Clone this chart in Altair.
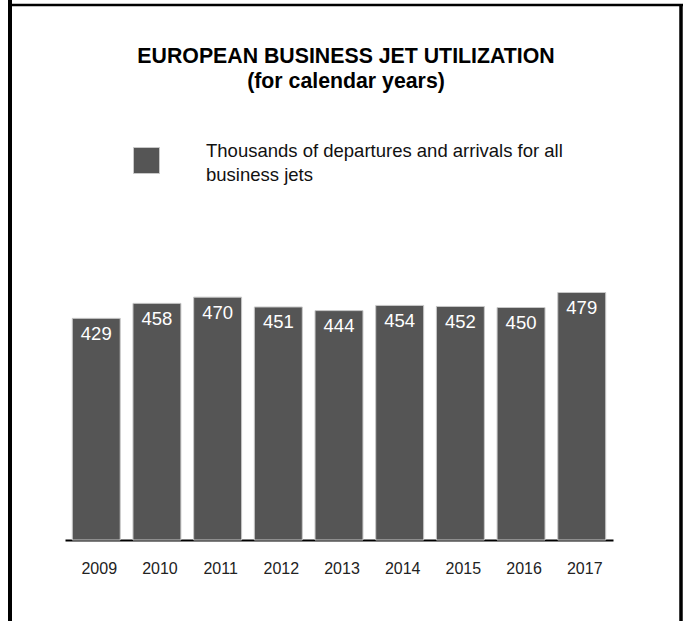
import altair as alt
import pandas as pd

years = ["2009", "2010", "2011", "2012", "2013", "2014", "2015", "2016", "2017"]
values = [429, 458, 470, 451, 444, 454, 452, 450, 479]
series_name = "Thousands of departures and arrivals for all business jets"
legend_lines = ["Thousands of departures and arrivals for all", "business jets"]
title_lines = ["EUROPEAN BUSINESS JET UTILIZATION", "(for calendar years)"]

df = pd.DataFrame({"year": years, "value": values, "series": [series_name] * len(years)})

FONT = "Liberation Sans"
BAR = "#555555"

label_expr = "[" + ", ".join("'" + s + "'" for s in legend_lines) + "]"

x_enc = alt.X(
    "year:N",
    sort=years,
    title=None,
    scale=alt.Scale(paddingInner=0.21, paddingOuter=0.12),
    axis=alt.Axis(
        labelAngle=0,
        labelFontSize=16,
        labelColor="#222222",
        labelPadding=20,
        labelOffset=3,
        ticks=False,
        domainColor="#000000",
        domainWidth=2.2,
        grid=False,
    ),
)
y_enc = alt.Y("value:Q", scale=alt.Scale(domain=[0, 600], nice=False, zero=True), axis=None)

bars = alt.Chart(df).mark_bar(stroke="#c8c8c8", strokeWidth=1).encode(
    x=x_enc,
    y=y_enc,
    color=alt.Color(
        "series:N",
        scale=alt.Scale(domain=[series_name], range=[BAR]),
        legend=alt.Legend(
            title=None,
            orient="none",
            legendX=68,
            legendY=-83,
            symbolType="square",
            symbolSize=676,
            symbolStrokeColor="#c8c8c8",
            symbolStrokeWidth=1,
            symbolOpacity=1,
            labelFontSize=18.5,
            labelColor="#111111",
            labelLimit=600,
            labelOffset=46,
            labelBaseline="bottom",
            labelExpr=label_expr,
            padding=0,
        ),
    ),
)

labels = alt.Chart(df).mark_text(
    color="white", fontSize=18.5, baseline="middle", dy=15.5, font=FONT
).encode(x=alt.X("year:N", sort=years), y="value:Q", text="value:Q")

one = alt.Data(values=[{}])
left_border = alt.Chart(one).mark_rule(color="#000000", strokeWidth=4).encode(
    x=alt.value(-55), y=alt.value(-230), y2=alt.value(391)
)
top_border = alt.Chart(one).mark_rule(color="#000000", strokeWidth=2.5).encode(
    x=alt.value(-57), x2=alt.value(618), y=alt.value(-225)
)
right_border = alt.Chart(one).mark_rule(color="#000000", strokeWidth=3.5).encode(
    x=alt.value(616), y=alt.value(-226), y2=alt.value(391)
)

chart = (
    alt.layer(bars, labels, left_border, top_border, right_border)
    .properties(
        width=548,
        height=310,
        autosize=alt.AutoSizeParams(type="none"),
        padding={"left": 65, "top": 230, "right": 70, "bottom": 81},
        title=alt.TitleParams(
            text=title_lines,
            fontSize=21.3,
            fontWeight="bold",
            color="#000000",
            anchor="middle",
            dx=7,
            offset=-94,
            lineHeight=25,
            font=FONT,
        ),
        background="white",
    )
    .configure(font=FONT, style={"guide-label": {"lineHeight": 24}})
    .configure_view(strokeWidth=0)
)

chart.save("out.html", embed_options={"renderer": "svg", "actions": False})
